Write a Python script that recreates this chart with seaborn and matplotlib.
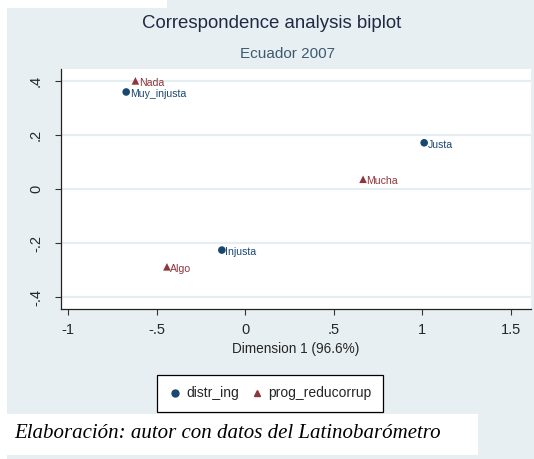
import numpy as np
import pandas as pd
import matplotlib
matplotlib.use("Agg")
import matplotlib.pyplot as plt
import seaborn as sns
from matplotlib.patches import Rectangle
from matplotlib import font_manager

# Coordenadas do biplot
cat_distr = ["Muy_injusta", "Injusta", "Justa"]
dim1_distr = [-0.672, -0.132, 1.01]
dim2_distr = [0.359, -0.226, 0.171]

cat_prog = ["Nada", "Algo", "Mucha"]
dim1_prog = [-0.62, -0.442, 0.665]
dim2_prog = [0.40, -0.288, 0.036]

xticks = [-1, -0.5, 0, 0.5, 1, 1.5]
xtick_labels = ["-1", "-.5", "0", ".5", "1", "1.5"]
yticks = [-0.4, -0.2, 0, 0.2, 0.4]
ytick_labels = ["-.4", "-.2", "0", ".2", ".4"]

df = pd.DataFrame({
    "dim1": dim1_distr + dim1_prog,
    "dim2": dim2_distr + dim2_prog,
    "label": cat_distr + cat_prog,
    "var": ["distr_ing"] * 3 + ["prog_reducorrup"] * 3,
})

sns.set_style("ticks")
names = {f.name for f in font_manager.fontManager.ttflist}
narrow = "Liberation Sans Narrow" if "Liberation Sans Narrow" in names else "Liberation Sans"
plt.rcParams["font.family"] = [narrow, "DejaVu Sans"]

navy = "#1a476f"
maroon = "#90353b"
bg = "#e8eff2"
W, H = 534, 459

fig = plt.figure(figsize=(W / 100, H / 100), dpi=100)


def px_rect(x0, y0, x1, y1, color):
    fig.add_artist(Rectangle((x0 / W, 1 - y1 / H), (x1 - x0) / W, (y1 - y0) / H,
                             transform=fig.transFigure, facecolor=color,
                             edgecolor="none", zorder=-10))


# fundo estilo Stata
px_rect(7, 0, W, H, bg)
px_rect(0, 0, 167, 8, "white")
px_rect(7, 414, 478, 455, "white")

ax = fig.add_axes([61 / W, 1 - 309 / H, (531 - 61) / W, (309 - 69) / H])
ax.set_facecolor("white")

sns.scatterplot(data=df, x="dim1", y="dim2", hue="var", style="var",
                palette={"distr_ing": navy, "prog_reducorrup": maroon},
                markers={"distr_ing": "o", "prog_reducorrup": "^"},
                s=30, edgecolor="none", ax=ax, legend=False, zorder=3)

for _, r in df.iterrows():
    c = navy if r["var"] == "distr_ing" else maroon
    ax.annotate(r["label"], (r["dim1"], r["dim2"]), xytext=(2.5, -1.5),
                textcoords="offset points", ha="left", va="center",
                fontsize=7.6, color=c)

ax.set_xlim(-1.04, 1.613)
ax.set_ylim(-0.444, 0.444)
ax.set_xticks(xticks)
ax.set_xticklabels(xtick_labels, fontsize=10.5)
ax.set_yticks(yticks)
ax.set_yticklabels(ytick_labels, fontsize=10.5, rotation=90, va="center")
ax.tick_params(direction="out", length=4, width=0.8, color="#333333")
ax.tick_params(axis="y", pad=9)
ax.tick_params(axis="x", pad=6)
ax.grid(axis="y", color="#e6eef2", linewidth=1.6)
ax.set_axisbelow(True)
for side in ["top", "right"]:
    ax.spines[side].set_visible(False)
for side in ["left", "bottom"]:
    ax.spines[side].set_color("#222222")
    ax.spines[side].set_linewidth(0.9)
ax.set_xlabel("Dimension 1 (96.6%)", fontsize=9.8, labelpad=4)
ax.set_ylabel("")

fig.text(272 / W, 1 - 23 / H, "Correspondence analysis biplot", ha="center",
         va="center", fontsize=13.4, color="#1f2a44")
fig.text(288 / W, 1 - 54 / H, "Ecuador 2007", ha="center", va="center",
         fontsize=11, color="#3d5a70")

h1 = plt.Line2D([], [], marker="o", color=navy, linestyle="none", markersize=5)
h2 = plt.Line2D([], [], marker="^", color=maroon, linestyle="none", markersize=5)
leg = fig.legend([h1, h2], ["distr_ing", "prog_reducorrup"], ncol=2,
                 loc="center", bbox_to_anchor=(270 / W, 1 - 393.5 / H),
                 fancybox=False, edgecolor="black", framealpha=1,
                 fontsize=10, handletextpad=0.3, columnspacing=0.8,
                 handlelength=1.0, borderpad=0.8)
leg.get_frame().set_linewidth(0.9)

fig.text(14 / W, 1 - 433 / H, "Elaboración: autor con datos del Latinobarómetro",
         ha="left", va="center", fontsize=15, style="italic",
         family=["Liberation Serif", "DejaVu Serif"], color="black")

fig.savefig("out.png", dpi=100)
